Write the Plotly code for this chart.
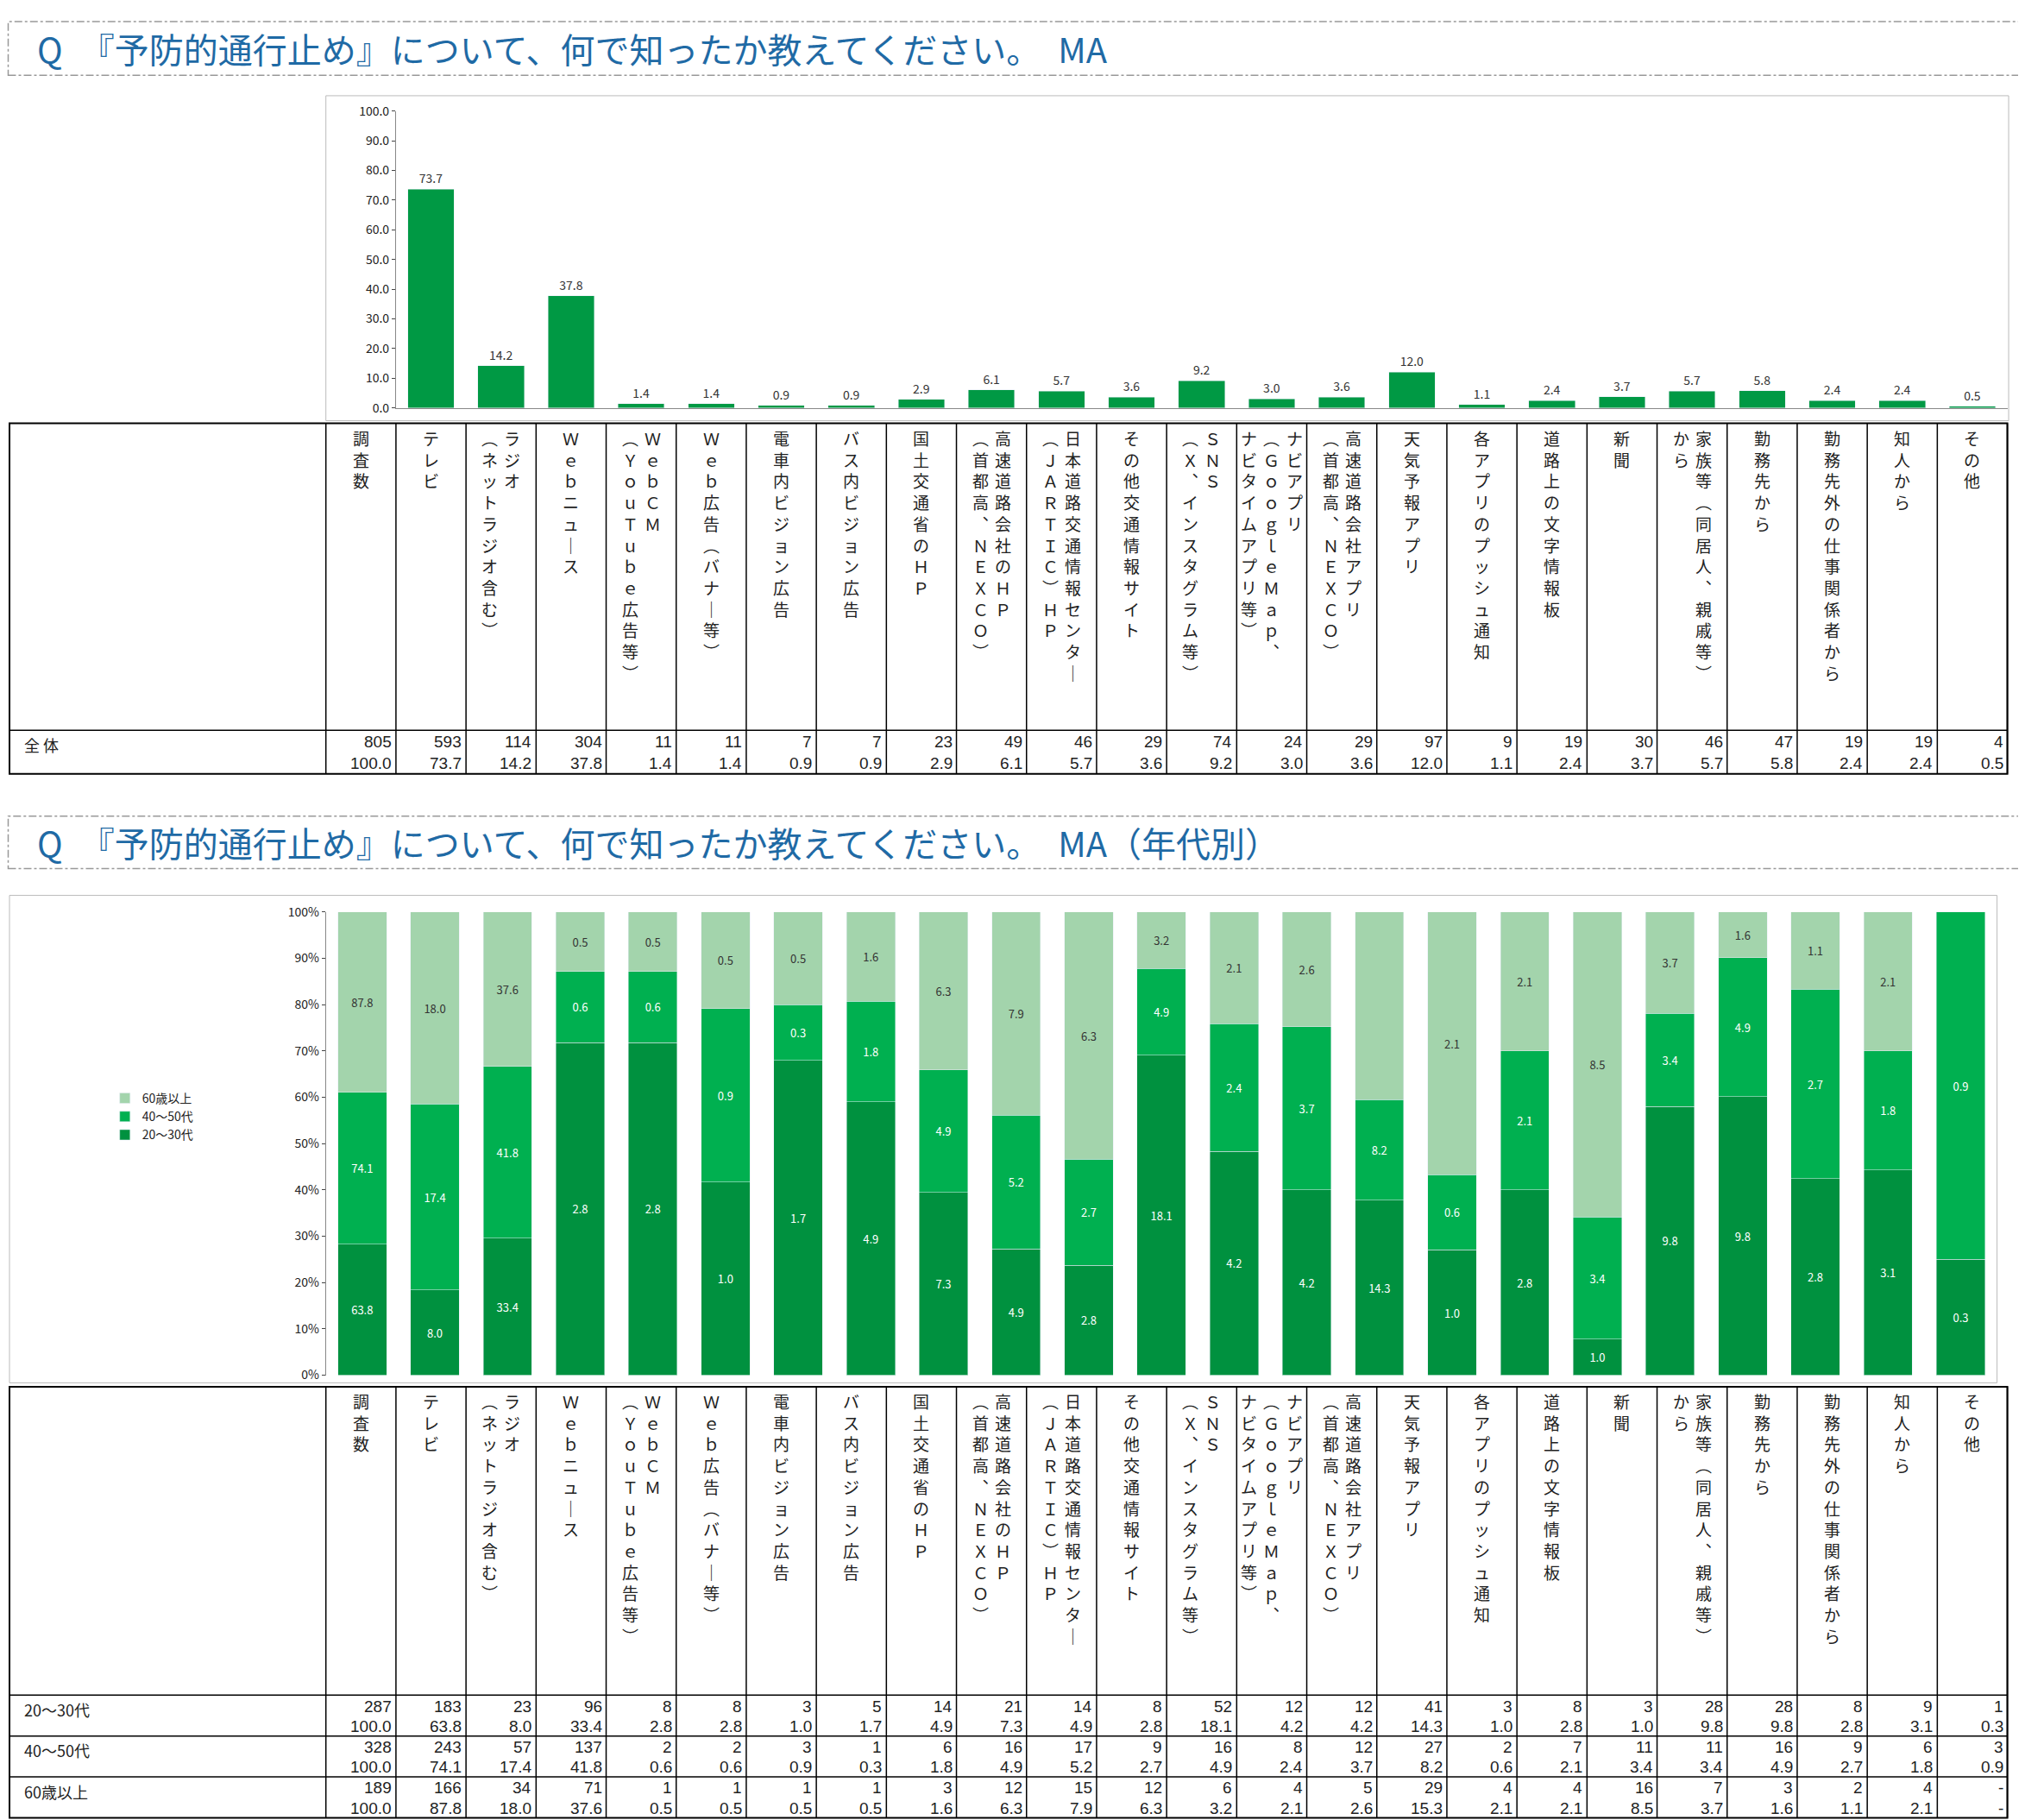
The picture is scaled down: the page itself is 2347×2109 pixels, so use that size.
import plotly.graph_objects as go

W, H = 2347, 2109
S = W / 1568  # reference was read in 1568-wide coordinates

cats = ["テレビ", "ラジオ", "Webニュース", "WebCM", "Web広告", "電車内ビジョン広告", "バス内ビジョン広告",
        "国土交通省のHP", "高速道路会社のHP", "日本道路交通情報センター", "その他交通情報サイト", "SNS",
        "ナビアプリ", "高速道路会社アプリ", "天気予報アプリ", "プッシュ通知", "文字情報板", "新聞",
        "家族等", "勤務先から", "勤務先外の仕事関係者から", "知人から", "その他"]

headers = ["調査数", "テレビ", "ラジオ|（ネットラジオ含む）", "Webニュース", "WebCM|（YouTube広告等）",
           "Web広告（バナー等）", "電車内ビジョン広告", "バス内ビジョン広告", "国土交通省のHP",
           "高速道路会社のHP|（首都高、NEXCO）", "日本道路交通情報センター|（JARTIC）HP", "その他交通情報サイト",
           "SNS|（X、インスタグラム等）", "ナビアプリ|（GoogleMap、|ナビタイムアプリ等）",
           "高速道路会社アプリ|（首都高、NEXCO）", "天気予報アプリ", "各アプリのプッシュ通知", "道路上の文字情報板",
           "新聞", "家族等（同居人、親戚等）|から", "勤務先から", "勤務先外の仕事関係者から", "知人から", "その他"]

all_n = [805, 593, 114, 304, 11, 11, 7, 7, 23, 49, 46, 29, 74, 24, 29, 97, 9, 19, 30, 46, 47, 19, 19, 4]
all_pct = [100.0, 73.7, 14.2, 37.8, 1.4, 1.4, 0.9, 0.9, 2.9, 6.1, 5.7, 3.6, 9.2, 3.0, 3.6, 12.0, 1.1, 2.4,
           3.7, 5.7, 5.8, 2.4, 2.4, 0.5]

ages = ["20～30代", "40～50代", "60歳以上"]
age_n = {
    "20～30代": [287, 183, 23, 96, 8, 8, 3, 5, 14, 21, 14, 8, 52, 12, 12, 41, 3, 8, 3, 28, 28, 8, 9, 1],
    "40～50代": [328, 243, 57, 137, 2, 2, 3, 1, 6, 16, 17, 9, 16, 8, 12, 27, 2, 7, 11, 11, 16, 9, 6, 3],
    "60歳以上": [189, 166, 34, 71, 1, 1, 1, 1, 3, 12, 15, 12, 6, 4, 5, 29, 4, 4, 16, 7, 3, 2, 4, None],
}
age_pct = {
    "20～30代": [100.0, 63.8, 8.0, 33.4, 2.8, 2.8, 1.0, 1.7, 4.9, 7.3, 4.9, 2.8, 18.1, 4.2, 4.2, 14.3, 1.0, 2.8,
                1.0, 9.8, 9.8, 2.8, 3.1, 0.3],
    "40～50代": [100.0, 74.1, 17.4, 41.8, 0.6, 0.6, 0.9, 0.3, 1.8, 4.9, 5.2, 2.7, 4.9, 2.4, 3.7, 8.2, 0.6, 2.1,
                3.4, 3.4, 4.9, 2.7, 1.8, 0.9],
    "60歳以上": [100.0, 87.8, 18.0, 37.6, 0.5, 0.5, 0.5, 0.5, 1.6, 6.3, 7.9, 6.3, 3.2, 2.1, 2.6, 15.3, 2.1, 2.1,
                8.5, 3.7, 1.6, 1.1, 2.1, None],
}
age_colors = {"20～30代": "#00913f", "40～50代": "#00b050", "60歳以上": "#a3d4ac"}
age_text = {"20～30代": "white", "40～50代": "white", "60歳以上": "#333333"}

JP = "Noto Sans CJK JP"
BLUE = "#1f6aa5"


def X(v):
    return v * S / W


def Y(v):
    return 1 - v * S / H


def vert(s):
    m = {"（": "︵", "）": "︶", "、": "︑", "ー": "｜"}
    out = []
    for ch in s:
        if ch in m:
            ch = m[ch]
        elif 33 <= ord(ch) <= 126:
            ch = chr(ord(ch) + 0xFEE0)
        out.append(ch)
    return "<br>".join(out)


fig = go.Figure()

# top chart: overall
fig.add_trace(go.Bar(x=cats, y=all_pct[1:], marker_color="#009944", width=0.66,
                     text=[f"{v:.1f}" for v in all_pct[1:]], textposition="outside",
                     textfont=dict(size=14, color="#333333"), cliponaxis=False,
                     xaxis="x", yaxis="y", showlegend=False))

# bottom chart: 100% stacked by age
for a in ages:
    vals = []
    labels = []
    for i in range(1, 24):
        tot = sum((age_pct[b][i] or 0) for b in ages)
        v = age_pct[a][i] or 0
        vals.append(v / tot)
        labels.append(f"{v:.1f}")
    fig.add_trace(go.Bar(x=cats, y=vals, name=a, marker_color=age_colors[a], width=0.67,
                         text=labels, textposition="inside", insidetextanchor="middle",
                         constraintext="none", textfont=dict(size=13, color=age_text[a]),
                         xaxis="x2", yaxis="y2", cliponaxis=False))

cw = (1549 - 247) / 24
fig.update_layout(
    width=W, height=H, margin=dict(l=0, r=0, t=0, b=0),
    plot_bgcolor="white", paper_bgcolor="white", barmode="stack",
    font=dict(family=JP, color="#222222"),
    xaxis=dict(domain=[X(247 + cw), X(1549)], anchor="y", showticklabels=False, showline=True,
               linecolor="#888888", ticks=""),
    yaxis=dict(domain=[Y(306), Y(74)], anchor="x", range=[0, 100], dtick=10, tickformat=".1f",
               showline=True, linecolor="#888888", showgrid=False, ticks="outside",
               ticklen=4, tickfont=dict(size=14), zeroline=False),
    xaxis2=dict(domain=[X(247), X(1541)], anchor="y2", showticklabels=False, showline=False, ticks=""),
    yaxis2=dict(domain=[Y(1062), Y(700)], anchor="x2", range=[0, 1], dtick=0.1, tickformat=".0%",
                showline=True, linecolor="#888888", showgrid=False, ticks="outside",
                ticklen=4, tickfont=dict(size=14), zeroline=False),
    legend=dict(x=X(78), y=Y(835), xanchor="left", yanchor="top", traceorder="reversed",
                font=dict(size=14), itemwidth=30, bgcolor="rgba(0,0,0,0)"),
)

shapes = []
ann = []

# titles with dashed boxes
for top, bot, txt in [(4, 46, "Q　『予防的通行止め』について、何で知ったか教えてください。　MA"),
                      (625, 666, "Q　『予防的通行止め』について、何で知ったか教えてください。　MA（年代別）")]:
    shapes.append(dict(type="rect", xref="paper", yref="paper", x0=X(1), x1=X(1567), y0=Y(bot), y1=Y(top),
                       line=dict(color="#999999", width=1.5, dash="dashdot")))
    ann.append(dict(xref="paper", yref="paper", x=X(22), y=Y((top + bot) / 2), xanchor="left",
                    yanchor="middle", text=txt, showarrow=False, font=dict(size=40, color=BLUE)))

# chart frames
shapes.append(dict(type="rect", xref="paper", yref="paper", x0=X(247), x1=X(1550), y0=Y(316), y1=Y(62),
                   line=dict(color="#bbbbbb", width=1)))
shapes.append(dict(type="rect", xref="paper", yref="paper", x0=X(2), x1=X(1541), y0=Y(1068), y1=Y(687),
                   line=dict(color="#bbbbbb", width=1)))


def table(top, head_bot, row_names, n_rows, pct_rows, row_h):
    bottom = head_bot + row_h * len(row_names)
    lw = 1.5
    shapes.append(dict(type="rect", xref="paper", yref="paper", x0=X(2), x1=X(1549), y0=Y(bottom),
                       y1=Y(top), line=dict(color="black", width=2)))
    for k in range(25):
        xe = 247 + k * cw
        shapes.append(dict(type="line", xref="paper", yref="paper", x0=X(xe), x1=X(xe), y0=Y(bottom),
                           y1=Y(top), line=dict(color="black", width=lw)))
    for r in range(len(row_names)):
        yy = head_bot + r * row_h
        shapes.append(dict(type="line", xref="paper", yref="paper", x0=X(2), x1=X(1549), y0=Y(yy),
                           y1=Y(yy), line=dict(color="black", width=lw)))
    # header texts
    for k, h in enumerate(headers):
        cols = h.split("|")
        cx = 247 + (k + 0.5) * cw
        step = 17.5
        for j, c in enumerate(cols):
            xo = cx + ((len(cols) - 1) / 2 - j) * step
            ann.append(dict(xref="paper", yref="paper", x=X(xo), y=Y(top + 1), xanchor="center",
                            yanchor="top", text=vert(c), showarrow=False, font=dict(size=19)))
    for r, name in enumerate(row_names):
        yy = head_bot + r * row_h
        ann.append(dict(xref="paper", yref="paper", x=X(12), y=Y(yy + 1), xanchor="left", yanchor="top",
                        text=name, showarrow=False, font=dict(size=18)))
        for k in range(24):
            xr = 247 + (k + 1) * cw - 2
            nv = n_rows[r][k]
            pv = pct_rows[r][k]
            ann.append(dict(xref="paper", yref="paper", x=X(xr), y=Y(yy + row_h * 0.27), xanchor="right",
                            yanchor="middle", text="-" if nv is None else str(nv), showarrow=False,
                            font=dict(size=19, family="Liberation Sans")))
            ann.append(dict(xref="paper", yref="paper", x=X(xr), y=Y(yy + row_h * 0.76), xanchor="right",
                            yanchor="middle", text="-" if pv is None else f"{pv:.1f}", showarrow=False,
                            font=dict(size=19, family="Liberation Sans")))


table(318, 558, ["全 体"], [all_n], [all_pct], 34)
table(1071, 1312, ages, [age_n[a] for a in ages], [age_pct[a] for a in ages], 32)

fig.update_layout(shapes=shapes, annotations=ann)
fig.write_html("out.html")
